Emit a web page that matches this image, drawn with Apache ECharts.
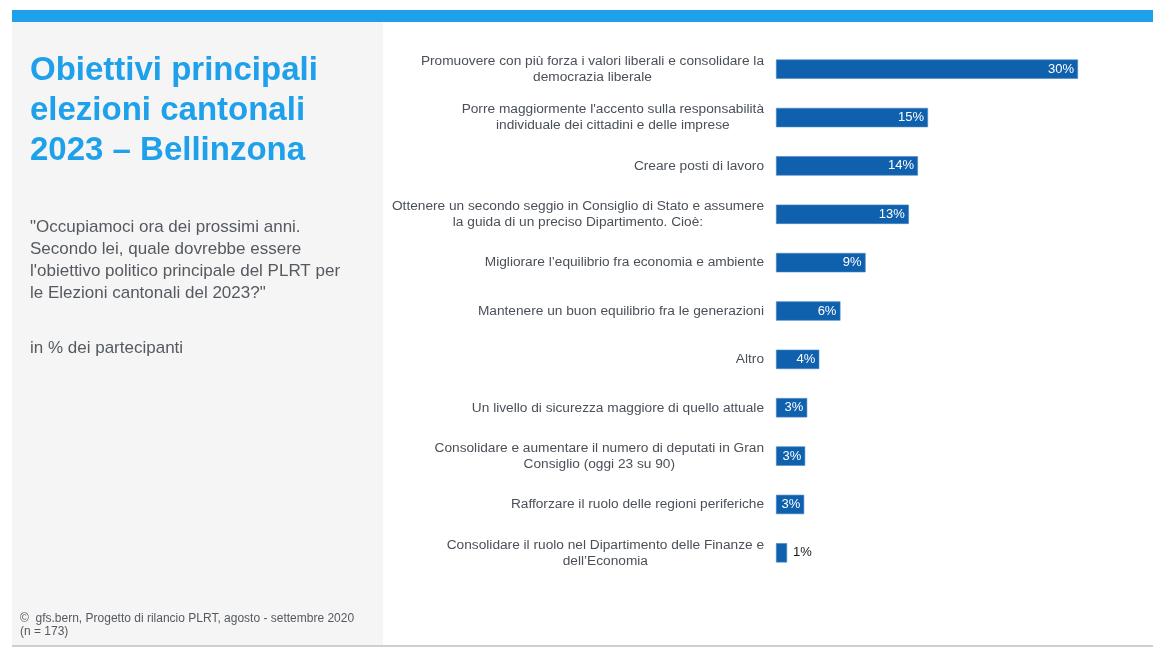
<!DOCTYPE html>
<html>
<head>
<meta charset="utf-8">
<script src="https://cdn.jsdelivr.net/npm/echarts@6/dist/echarts.min.js"></script>
<style>
html,body{margin:0;padding:0;background:#fff;}
#c{width:1153px;height:648px;}
</style>
</head>
<body>
<div id="c"></div>
<script>
const categories = [
  "Promuovere con più forza i valori liberali e consolidare la\ndemocrazia liberale",
  "Porre maggiormente l'accento sulla responsabilità\nindividuale dei cittadini e delle imprese",
  "Creare posti di lavoro",
  "Ottenere un secondo seggio in Consiglio di Stato e assumere\nla guida di un preciso Dipartimento. Cioè:",
  "Migliorare l’equilibrio fra economia e ambiente",
  "Mantenere un buon equilibrio fra le generazioni",
  "Altro",
  "Un livello di sicurezza maggiore di quello attuale",
  "Consolidare e aumentare il numero di deputati in Gran\nConsiglio (oggi 23 su 90)",
  "Rafforzare il ruolo delle regioni periferiche",
  "Consolidare il ruolo nel Dipartimento delle Finanze e\ndell’Economia"
];
const values = [30.0, 15.1, 14.1, 13.2, 8.9, 6.4, 4.3, 3.1, 2.9, 2.8, 1.1];

const titleText = "Obiettivi principali\nelezioni cantonali\n2023 – Bellinzona";
const questionText = "\"Occupiamoci ora dei prossimi anni.\nSecondo lei, quale dovrebbe essere\nl'obiettivo politico principale del PLRT per\nle Elezioni cantonali del 2023?\"";
const unitText = "in % dei partecipanti";
const sourceText = "©  gfs.bern, Progetto di rilancio PLRT, agosto - settembre 2020\n(n = 173)";

const FONT = "'Liberation Sans', Arial, sans-serif";
const chart = echarts.init(document.getElementById('c'), null, {renderer: 'canvas'});

const barData = values.map(v => {
  if (v < 2) {
    return {value: v, label: {position: 'right', color: '#1a1a1a', distance: 6}};
  }
  return {value: v};
});

chart.setOption({
  animation: false,
  backgroundColor: '#ffffff',
  graphic: [
    {type: 'rect', shape: {x: 12, y: 10, width: 1141, height: 12}, style: {fill: '#1fa0ea'}, z: 0},
    {type: 'rect', shape: {x: 12, y: 22, width: 371, height: 623}, style: {fill: '#f5f5f5'}, z: 0},
    {type: 'rect', shape: {x: 12, y: 645, width: 1141, height: 2}, style: {fill: '#cfcfcf'}, z: 0},
    {type: 'text', left: 30, top: 51, z: 5,
      style: {text: titleText, font: "bold 33px " + FONT, fill: '#1fa0ea', lineHeight: 40}},
    {type: 'text', left: 30, top: 216, z: 5,
      style: {text: questionText, font: "17px " + FONT, fill: '#555a60', lineHeight: 22}},
    {type: 'text', left: 30, top: 337, z: 5,
      style: {text: unitText, font: "17px " + FONT, fill: '#555a60', lineHeight: 22}},
    {type: 'text', left: 20, top: 612, z: 5,
      style: {text: sourceText, font: "12px " + FONT, fill: '#555a60', lineHeight: 13}}
  ],
  grid: {left: 776, right: 75, top: 45, bottom: 71, containLabel: false},
  xAxis: {
    type: 'value', min: 0, max: 30, show: false,
    splitLine: {show: false}
  },
  yAxis: {
    type: 'category', inverse: true, data: categories,
    axisLine: {show: false}, axisTick: {show: false},
    axisLabel: {
      interval: 0, margin: 12, align: 'right',
      color: '#4a5058', fontFamily: FONT, fontSize: 13.7, lineHeight: 16,
      formatter: v => v.split('\n').map(l => '{c|' + l + '}').join('\n'),
      rich: {c: {align: 'center', color: '#4a5058', fontFamily: FONT, fontSize: 13.7, lineHeight: 16}}
    }
  },
  series: [{
    type: 'bar',
    data: barData,
    barCategoryGap: '60%',
    itemStyle: {color: '#0f61ae', borderColor: '#4a86c5', borderWidth: 0.6},
    label: {
      show: true, position: 'insideRight', distance: 4,
      color: '#ffffff', fontFamily: FONT, fontSize: 13,
      formatter: p => Math.round(p.value) + '%'
    }
  }]
});
</script>
</body>
</html>
